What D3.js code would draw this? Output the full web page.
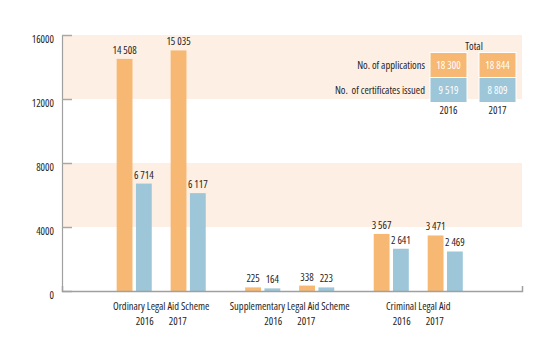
<!DOCTYPE html>
<html>
<head>
<meta charset="utf-8">
<script src="https://cdn.jsdelivr.net/npm/d3@7"></script>
<style>
  html, body { margin: 0; padding: 0; background: #fff; }
  svg text { font-family: "Open Sans", "Liberation Sans", sans-serif; font-stretch: 75%; fill: #262425; }
</style>
</head>
<body>
<svg id="chart" width="560" height="348"></svg>
<script>
// Legal aid schemes, applications and certificates issued per year
const schemes = ["Ordinary Legal Aid Scheme", "Supplementary Legal Aid Scheme", "Criminal Legal Aid"];
const years = ["2016", "2017"];
const seriesNames = ["No. of applications", "No.  of certificates issued"];
const applications2016 = [14508, 225, 3567];
const certificates2016 = [6714, 164, 2641];
const applications2017 = [15035, 338, 3471];
const certificates2017 = [6117, 223, 2469];
const yTicks = [0, 4000, 8000, 12000, 16000];
const bandRanges = [[4000, 8000], [12000, 16000]];

const colors = ["#f6b872", "#9dc6d9"];
const bandColor = "#fdefe3";

const table = {
  "2016": [applications2016, certificates2016],
  "2017": [applications2017, certificates2017]
};

const fmt = d3.formatLocale({ decimal: ".", thousands: " ", grouping: [3], currency: ["", ""] }).format(",d");

const svg = d3.select("#chart");
const plotLeft = 62, plotRight = 522, plotTop = 35, plotBottom = 291;

const y = d3.scaleLinear().domain([0, 16000]).range([plotBottom, plotTop]);
const x0 = d3.scaleBand().domain(schemes).range([plotLeft, plotRight])
  .paddingInner(0.307).paddingOuter(0.443).align(0.48);
const x1 = d3.scaleBand().domain(years).range([0, x0.bandwidth()]).paddingInner(0.35);
const x2 = d3.scaleBand().domain([0, 1]).range([0, x1.bandwidth()]).paddingInner(0.18);

// background bands
svg.append("g").selectAll("rect").data(bandRanges).join("rect")
  .attr("x", plotLeft).attr("width", plotRight - plotLeft)
  .attr("y", d => y(d[1])).attr("height", d => y(d[0]) - y(d[1]))
  .attr("fill", bandColor);

// y axis
const yAxis = svg.append("g").attr("transform", `translate(${plotLeft},0)`)
  .call(d3.axisLeft(y).tickValues(yTicks).tickFormat(d3.format("d"))
    .tickSizeInner(-10).tickSizeOuter(0).tickPadding(8));
yAxis.attr("font-family", null);
yAxis.select(".domain").attr("stroke", "#a0a0a0").attr("stroke-width", 1.2);
yAxis.selectAll(".tick line").attr("stroke", "#a8a8a8").attr("stroke-width", 1.5);
yAxis.selectAll(".tick text").attr("font-size", 10.5).attr("dy", "0.75em");

// bars
const flat = [];
schemes.forEach((s, i) => years.forEach(yr => [0, 1].forEach(k => {
  flat.push({ scheme: s, year: yr, k, value: table[yr][k][i] });
})));

const barX = d => x0(d.scheme) + x1(d.year) + x2(d.k);

svg.append("g").selectAll("rect").data(flat).join("rect")
  .attr("x", barX).attr("width", x2.bandwidth())
  .attr("y", d => y(d.value)).attr("height", d => plotBottom - y(d.value))
  .attr("fill", d => colors[d.k]);

svg.append("g").selectAll("text").data(flat).join("text")
  .attr("x", d => barX(d) + x2.bandwidth() / 2)
  .attr("y", d => y(d.value) - 5)
  .attr("text-anchor", "middle").attr("font-size", 10.5)
  .text(d => fmt(d.value));

// x axis
const xAxis = svg.append("g").attr("transform", `translate(0,${plotBottom})`)
  .call(d3.axisBottom(x0).tickSizeInner(0).tickSizeOuter(-5).tickFormat(""));
xAxis.select(".domain").attr("stroke", "#a0a0a0").attr("stroke-width", 1.5);

const xl = svg.append("g");
schemes.forEach(s => {
  const cx = x0(s) + x0.bandwidth() / 2;
  xl.append("text").attr("x", cx).attr("y", 310).attr("text-anchor", "middle")
    .attr("font-size", 10.5).text(s);
  years.forEach((yr, j) => {
    xl.append("text").attr("x", cx + (j ? 16.5 : -16.5)).attr("y", 325)
      .attr("text-anchor", "middle").attr("font-size", 10.5).text(yr);
  });
});

// totals table
const cellW = 37, cellH = 25;
const cellX = { "2016": 430, "2017": 479 };
const cellY = [52.5, 77.5];
const tg = svg.append("g");
tg.append("text").attr("x", 474).attr("y", 50).attr("text-anchor", "middle")
  .attr("font-size", 10.5).text("Total");
years.forEach(yr => {
  [0, 1].forEach(k => {
    const total = d3.sum(table[yr][k]);
    tg.append("rect").attr("x", cellX[yr]).attr("y", cellY[k])
      .attr("width", cellW).attr("height", cellH)
      .attr("fill", colors[k]).attr("stroke", "#fff").attr("stroke-width", 1);
    tg.append("text").attr("x", cellX[yr] + cellW / 2).attr("y", cellY[k] + cellH / 2 + 4)
      .attr("text-anchor", "middle").attr("font-size", 10.5)
      .style("fill", "#fff").text(fmt(total));
  });
  tg.append("text").attr("x", cellX[yr] + cellW / 2).attr("y", 114)
    .attr("text-anchor", "middle").attr("font-size", 10.5).text(yr);
});
seriesNames.forEach((n, k) => {
  tg.append("text").attr("x", 425).attr("y", cellY[k] + cellH / 2 + 4)
    .attr("text-anchor", "end").attr("font-size", 10.5).text(n)
    .style("white-space", "pre");
});
</script>
</body>
</html>
